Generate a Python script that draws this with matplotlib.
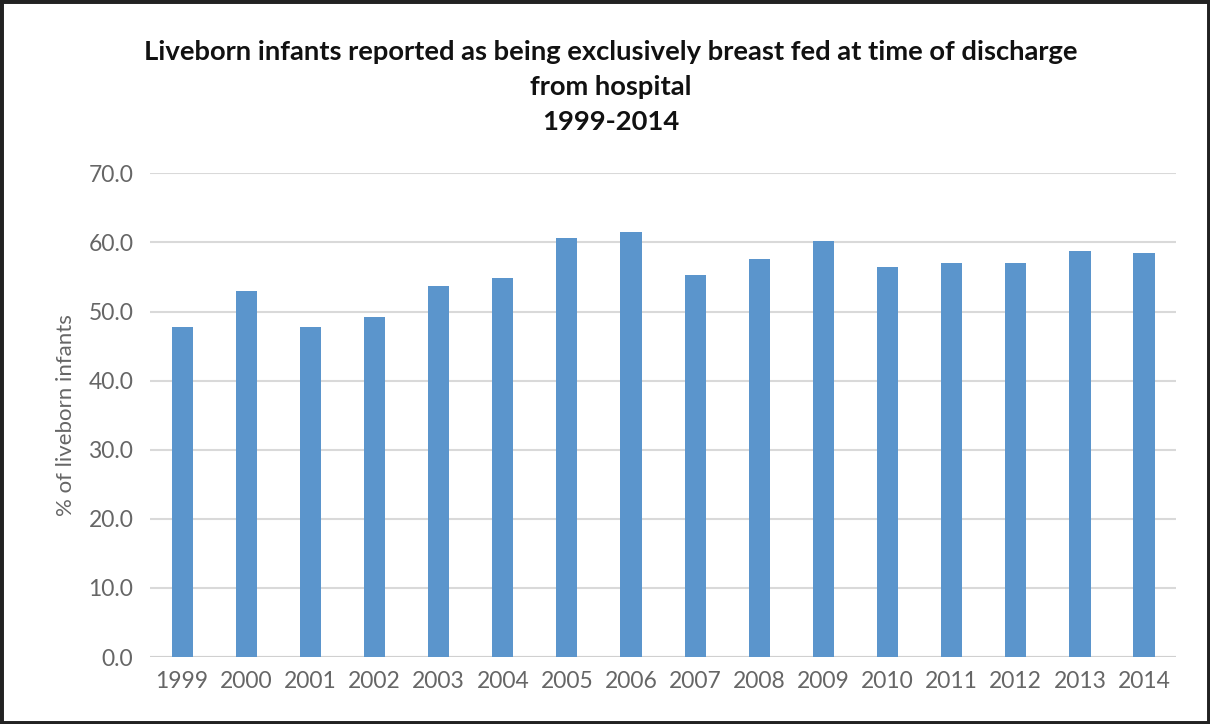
import matplotlib.pyplot as plt
import numpy as np
from matplotlib.patches import Rectangle

# Data
years = ['1999', '2000', '2001', '2002', '2003', '2004', '2005', '2006',
         '2007', '2008', '2009', '2010', '2011', '2012', '2013', '2014']
percent = [47.8, 53.0, 47.8, 49.2, 53.7, 54.9, 60.7, 61.5,
           55.3, 57.6, 60.2, 56.4, 57.0, 57.1, 58.7, 58.5]
yticks = [0, 10, 20, 30, 40, 50, 60, 70]

title = ('Liveborn infants reported as being exclusively breast fed at time of discharge\n'
         'from hospital\n1999-2014')

plt.rcParams['font.family'] = ['Lato', 'DejaVu Sans']

fig = plt.figure(figsize=(12.1, 7.24), dpi=100)
ax = fig.add_axes([0.124, 0.0925, 0.848, 0.668])

x = np.arange(len(years))
ax.bar(x, percent, width=0.33, color='#5b95cc', zorder=3)

ax.set_xlim(-0.5, len(years) - 0.5)
ax.set_ylim(0, 70)
ax.set_yticks(yticks)
ax.set_yticklabels([f'{v:.1f}' for v in yticks])
ax.set_xticks(x)
ax.set_xticklabels(years)
ax.tick_params(axis='both', length=0, colors='#666666', labelsize=16.5)
ax.tick_params(axis='y', pad=12)
ax.tick_params(axis='x', pad=10)

ax.grid(axis='y', color='#d9d9d9', linewidth=1.5, zorder=0)
for s in ax.spines.values():
    s.set_visible(False)
ax.axhline(0, color='#d0d0d0', linewidth=1.5, zorder=2)

ax.set_ylabel('% of liveborn infants', color='#666666', fontsize=16, labelpad=9)

fig.text(0.505, 0.945, title, ha='center', va='top', fontsize=19.7,
         fontweight='bold', linespacing=1.55, color='#111111')

# dark frame round the picture
fig.patches.append(Rectangle((0, 0), 1, 1, transform=fig.transFigure,
                             fill=False, edgecolor='#222222', linewidth=5))

fig.savefig('out.png', dpi=100)
